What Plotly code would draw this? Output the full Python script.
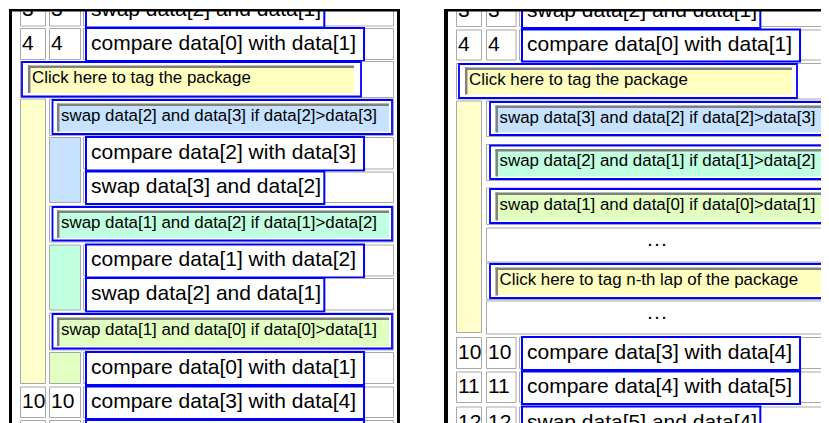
import plotly.graph_objects as go

W, H = 829, 423
OFF = 8  # the page body has an 8px margin; the figure is shrunk/shifted to compensate

# ------------------------------------------------------------------ data
LEFT_NUM = ["3", "4", "", "", "", "", "", "", "", "", "", "10", "11"]
LEFT_KIND = ["step", "step", "tag", "sub", "child", "child", "sub", "child", "child",
             "sub", "child", "step", "step"]
LEFT_TEXT = [
    "swap data[2] and data[1]",
    "compare data[0] with data[1]",
    "Click here to tag the package",
    "swap data[2] and data[3] if data[2]>data[3]",
    "compare data[2] with data[3]",
    "swap data[3] and data[2]",
    "swap data[1] and data[2] if data[1]>data[2]",
    "compare data[1] with data[2]",
    "swap data[2] and data[1]",
    "swap data[1] and data[0] if data[0]>data[1]",
    "compare data[0] with data[1]",
    "compare data[3] with data[4]",
    "compare data[4] with data[5]",
]
LEFT_TONE = ["", "", "yellow", "blue", "blue", "blue", "mint", "mint", "mint",
             "lime", "lime", "", ""]

RIGHT_NUM = ["3", "4", "", "", "", "", "", "", "", "10", "11", "12"]
RIGHT_KIND = ["step", "step", "tag", "sub", "sub", "sub", "dots", "sub", "dots",
              "step", "step", "step"]
RIGHT_TEXT = [
    "swap data[2] and data[1]",
    "compare data[0] with data[1]",
    "Click here to tag the package",
    "swap data[3] and data[2] if data[2]>data[3]",
    "swap data[2] and data[1] if data[1]>data[2]",
    "swap data[1] and data[0] if data[0]>data[1]",
    "\u00b7\u00b7\u00b7",
    "Click here to tag n-th lap of the package",
    "\u00b7\u00b7\u00b7",
    "compare data[3] with data[4]",
    "compare data[4] with data[5]",
    "swap data[5] and data[4]",
]
RIGHT_TONE = ["", "", "yellow", "blue", "mint", "lime", "", "yellow", "", "", "", ""]

# ------------------------------------------------------------------ layout (pixels)
LEFT_ROWS_Y = [(-6, 27.5), (28, 61), (62, 96.5), (100, 134), (137, 170.5),
               (171.5, 204), (207, 240.5), (244.5, 277.5), (278, 311.5),
               (314, 348.5), (352, 385), (386.5, 419), (420, 453)]
RIGHT_ROWS_Y = [(-5, 28), (29.5, 61.5), (64, 98), (102, 135), (145.5, 179),
                (189, 223), (228, 262), (264, 298), (301, 334), (337, 370),
                (371.5, 404), (406.5, 440)]

LP = dict(n1=(20.5, 45.5), n2=(49.5, 80.5), cx=83.5, box=86, right=393.5,
          tag=(22, 361, 28, 354), sub_cell=49.5, sub_blue=52.5, sub_right=392,
          sub_field=57, dots_x=240, frame=(9, 12, 397, 400))
RP = dict(n1=(456.5, 481.5), n2=(486.5, 516), cx=519.5, box=522, right=845,
          tag=(459, 797, 465, 792), sub_cell=486.5, sub_blue=490, sub_right=825,
          sub_field=495.5, dots_x=657, frame=(444, 448, None, None))

BLUE = "#0000ff"
GRAY = "#a8a8a8"
DARK = "#808080"
FIELD = {"yellow": "#ffffc0", "blue": "#c6e2ff", "mint": "#c0ffe0", "lime": "#e0ffc0"}
BAR = {"yellow": "#ffffcc", "blue": "#c6e2ff", "mint": "#c0ffe0", "lime": "#e0ffc0"}
CHAR_W = 9.93

BIG_FONT = dict(family="Liberation Sans, Arial", size=21, color="black")
SMALL_FONT = dict(family="Liberation Sans, Arial", size=16.9, color="black")
DOTS_FONT = dict(family="Liberation Sans, Arial", size=21, color="black")

shapes = []
texts = {"big": ([], [], []), "small": ([], [], []), "dots": ([], [], [])}


def rect(x0, y0, x1, y1, fill="white", line=GRAY, lw=1, layer="below"):
    shapes.append(dict(type="rect", xref="x", yref="y", x0=x0, y0=y0, x1=x1, y1=y1,
                       fillcolor=fill, layer=layer,
                       line=dict(color=line, width=lw) if line else dict(width=0)))


def seg(x0, y0, x1, y1, color, lw, layer="below"):
    shapes.append(dict(type="line", xref="x", yref="y", x0=x0, y0=y0, x1=x1, y1=y1,
                       line=dict(color=color, width=lw), layer=layer))


def field(x0, y0, x1, y1, tone):
    rect(x0, y0, x1, y1, fill=FIELD[tone], line=None)
    seg(x0, y0 + 1.2, x1, y0 + 1.2, DARK, 2.5)
    seg(x0 + 1.2, y0, x0 + 1.2, y1, DARK, 2.5)


def add_text(kind, x, y, t):
    xs, ys, ts = texts[kind]
    xs.append(x)
    ys.append(y)
    ts.append(t)


def draw_panel(P, nums, kinds, labels, tones, rows_y):
    # group bars
    grp = [i for i, k in enumerate(kinds) if k in ("sub", "child", "dots")]
    if grp:
        rect(P["n1"][0], rows_y[grp[0]][0] - 1, P["n1"][1], rows_y[grp[-1]][1] - 1.5,
             fill=BAR["yellow"])
    i = 0
    while i < len(kinds):
        if kinds[i] == "sub" and i + 1 < len(kinds) and kinds[i + 1] == "child":
            j = i + 1
            while j + 1 < len(kinds) and kinds[j + 1] == "child":
                j += 1
            rect(P["n2"][0], rows_y[i + 1][0] + 0.5, P["n2"][1], rows_y[j][1] - 1.5,
                 fill=BAR[tones[i]])
            i = j
        i += 1

    for i, kind in enumerate(kinds):
        top, bot = rows_y[i]
        mid = (top + bot) / 2
        lab = labels[i]
        if kind in ("step", "child"):
            if kind == "step":
                for cx0, cx1 in (P["n1"], P["n2"]):
                    rect(cx0, top + 0.5, cx1, bot - 1.5)
                    add_text("big", cx0 + 1.5, mid, nums[i])
            rect(P["cx"], top + 0.5, P["right"], bot - 1.5)
            w = CHAR_W * len(lab)
            rect(P["box"], top, P["box"] + w, bot, fill="white", line=BLUE, lw=2)
            add_text("big", P["box"] + 5, mid, lab)
        elif kind == "tag":
            bx0, bx1, fx0, fx1 = P["tag"]
            rect(P["n1"][0], top - 0.5, P["right"], bot + 1)
            rect(bx0, top, bx1, bot, fill="white", line=BLUE, lw=1.8)
            field(fx0, top + 3.5, fx1, bot - 3.5, tones[i])
            add_text("small", fx0 + 4, mid, lab)
        elif kind == "sub":
            rect(P["sub_cell"], top - 1, P["right"], bot + 1.5)
            rect(P["sub_blue"], top, P["sub_right"], bot, fill="white", line=BLUE, lw=1.8)
            field(P["sub_field"], top + 3.5, P["sub_right"] - 3, bot - 2.5, tones[i])
            add_text("small", P["sub_field"] + 4, mid, lab)
        elif kind == "dots":
            rect(P["sub_cell"], top, P["right"], bot)
            add_text("dots", P["dots_x"], mid, lab)


draw_panel(LP, LEFT_NUM, LEFT_KIND, LEFT_TEXT, LEFT_TONE, LEFT_ROWS_Y)
draw_panel(RP, RIGHT_NUM, RIGHT_KIND, RIGHT_TEXT, RIGHT_TONE, RIGHT_ROWS_Y)

# mask above top frame + black frames (drawn above the text)
rect(-5, -40, W + 5, 9, fill="white", line=None, layer="above")
rect(LP["frame"][0], 9, LP["frame"][3], 11.5, fill="black", line=None, layer="above")
rect(LP["frame"][0], 9, LP["frame"][1], H + 5, fill="black", line=None, layer="above")
rect(LP["frame"][2], 9, LP["frame"][3], H + 5, fill="black", line=None, layer="above")
rect(RP["frame"][0], 9, W + 5, 11.5, fill="black", line=None, layer="above")
rect(RP["frame"][0], 9, RP["frame"][1], H + 5, fill="black", line=None, layer="above")

fig = go.Figure()
for kind, font, pos in (("big", BIG_FONT, "middle right"),
                        ("small", SMALL_FONT, "middle right"),
                        ("dots", DOTS_FONT, "middle center")):
    xs, ys, ts = texts[kind]
    fig.add_trace(go.Scatter(x=xs, y=ys, text=ts, mode="text", textposition=pos,
                             textfont=font, hoverinfo="skip", showlegend=False,
                             cliponaxis=True))

fig.update_layout(
    width=W - OFF, height=H - OFF, margin=dict(l=0, r=0, t=0, b=0),
    xaxis=dict(range=[OFF, W], visible=False, fixedrange=True),
    yaxis=dict(range=[H, OFF], visible=False, fixedrange=True),
    plot_bgcolor="white", paper_bgcolor="white", showlegend=False,
    shapes=shapes,
)
fig.write_html("out.html")
